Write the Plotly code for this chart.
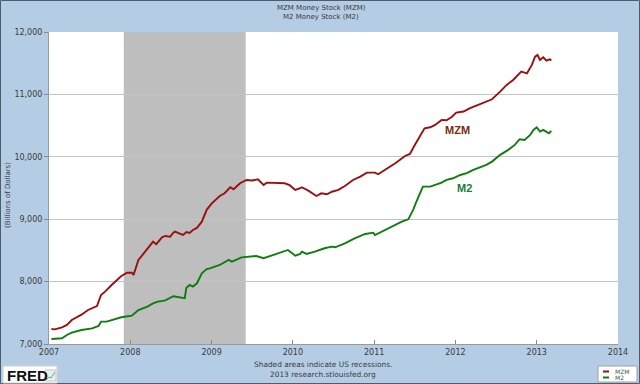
import plotly.graph_objects as go

# ---- data ----
mzm_years = [2007.03, 2007.07, 2007.16, 2007.22, 2007.28, 2007.34, 2007.40, 2007.48, 2007.57, 2007.59,
             2007.64, 2007.69, 2007.77, 2007.83, 2007.89, 2007.96, 2008.02, 2008.04, 2008.10, 2008.20,
             2008.26, 2008.28, 2008.32, 2008.39, 2008.43, 2008.49, 2008.53, 2008.55, 2008.63, 2008.65,
             2008.69, 2008.73, 2008.77, 2008.82, 2008.88, 2008.94, 2009.00, 2009.06, 2009.10, 2009.16,
             2009.23, 2009.27, 2009.35, 2009.43, 2009.50, 2009.57, 2009.64, 2009.68, 2009.80, 2009.90,
             2009.96, 2010.03, 2010.09, 2010.11, 2010.19, 2010.29, 2010.35, 2010.42, 2010.48, 2010.56,
             2010.64, 2010.74, 2010.83, 2010.91, 2011.01, 2011.05, 2011.13, 2011.26, 2011.38, 2011.44,
             2011.50, 2011.56, 2011.62, 2011.69, 2011.75, 2011.83, 2011.89, 2011.95, 2012.01, 2012.10,
             2012.18, 2012.28, 2012.38, 2012.45, 2012.55, 2012.63, 2012.71, 2012.77, 2012.81, 2012.88,
             2012.94, 2012.98, 2013.01, 2013.04, 2013.08, 2013.12, 2013.16, 2013.18]
mzm_values = [7240, 7235, 7267, 7305, 7385, 7428, 7470, 7545, 7598, 7609,
              7785, 7839, 7946, 8026, 8090, 8143, 8143, 8106, 8346, 8507,
              8614, 8640, 8600, 8709, 8731, 8720, 8785, 8800, 8757, 8747,
              8794, 8779, 8827, 8860, 8960, 9150, 9250, 9330, 9372, 9416,
              9512, 9480, 9576, 9629, 9620, 9640, 9549, 9586, 9576, 9576,
              9545, 9469, 9496, 9512, 9458, 9372, 9415, 9400, 9440, 9469,
              9533, 9629, 9682, 9746, 9746, 9720, 9789, 9896, 10013, 10045,
              10189, 10324, 10457, 10473, 10511, 10591, 10586, 10634, 10708, 10725,
              10779, 10831, 10885, 10922, 11044, 11152, 11232, 11311, 11365, 11338,
              11472, 11605, 11632, 11552, 11595, 11542, 11563, 11542]

m2_years = [2007.03, 2007.07, 2007.16, 2007.22, 2007.28, 2007.40, 2007.53, 2007.61, 2007.64, 2007.71,
            2007.81, 2007.89, 2008.02, 2008.10, 2008.21, 2008.28, 2008.34, 2008.43, 2008.53, 2008.61,
            2008.67, 2008.69, 2008.73, 2008.77, 2008.82, 2008.88, 2008.94, 2008.98, 2009.10, 2009.21,
            2009.25, 2009.37, 2009.47, 2009.55, 2009.64, 2009.72, 2009.84, 2009.94, 2010.03, 2010.09,
            2010.11, 2010.17, 2010.27, 2010.39, 2010.48, 2010.52, 2010.64, 2010.76, 2010.89, 2010.99,
            2011.01, 2011.13, 2011.26, 2011.34, 2011.42, 2011.48, 2011.52, 2011.56, 2011.60, 2011.69,
            2011.75, 2011.83, 2011.89, 2011.97, 2012.06, 2012.14, 2012.22, 2012.30, 2012.38, 2012.45,
            2012.55, 2012.65, 2012.73, 2012.79, 2012.85, 2012.92, 2012.96, 2013.00, 2013.04, 2013.08,
            2013.12, 2013.15, 2013.18]
m2_values = [7080, 7085, 7091, 7144, 7182, 7224, 7251, 7289, 7358, 7358,
             7396, 7428, 7455, 7545, 7600, 7652, 7678, 7700, 7765, 7750,
             7733, 7900, 7946, 7920, 7973, 8133, 8200, 8213, 8266, 8347,
             8320, 8389, 8400, 8410, 8374, 8410, 8453, 8507, 8415, 8443,
             8480, 8443, 8480, 8534, 8560, 8550, 8614, 8694, 8763, 8784,
             8747, 8827, 8907, 8960, 8998, 9148, 9281, 9416, 9522, 9522,
             9549, 9587, 9630, 9656, 9709, 9737, 9789, 9831, 9870, 9923,
             10031, 10111, 10191, 10282, 10271, 10351, 10431, 10473, 10404, 10431,
             10404, 10377, 10415]

recession_start = 2007.92
recession_end = 2009.42

x_ticks = [2007, 2008, 2009, 2010, 2011, 2012, 2013, 2014]
y_ticks = [7000, 8000, 9000, 10000, 11000, 12000]

series_names = ["MZM", "M2"]
series_colors = ["#9B0F0F", "#0E7D0E"]

# ---- layout geometry (pixels) ----
W, H = 640, 384
L, R, T, B = 49, 22, 32, 40
PW, PH = W - L - R, H - T - B


def px(x):
    return (x - L) / PW


def py(y):
    return (H - B - y) / PH


FONT = "DejaVu Sans, Verdana, sans-serif"
TXT = "#3a3a3a"

fig = go.Figure()
fig.add_trace(go.Scatter(x=mzm_years, y=mzm_values, mode="lines", name=series_names[0],
                         line=dict(color=series_colors[0], width=1.9), showlegend=False))
fig.add_trace(go.Scatter(x=m2_years, y=m2_values, mode="lines", name=series_names[1],
                         line=dict(color=series_colors[1], width=1.9), showlegend=False))

shapes = [
    dict(type="rect", xref="x", yref="paper", x0=recession_start, x1=recession_end, y0=0, y1=1,
         fillcolor="#BEBEBE", line=dict(width=0), layer="between"),
    # outer border of image
    dict(type="rect", xref="paper", yref="paper", x0=px(0.5), x1=px(W - 0.5), y0=py(0.5), y1=py(H - 0.5),
         line=dict(color="#4d5d6d", width=1), fillcolor="rgba(0,0,0,0)", layer="above"),
    # FRED logo box
    dict(type="rect", xref="paper", yref="paper", x0=px(3), x1=px(57), y0=py(383), y1=py(366),
         fillcolor="white", line=dict(color="#d0d0d0", width=1), layer="above"),
    # legend box
    dict(type="rect", xref="paper", yref="paper", x0=px(598), x1=px(637), y0=py(382), y1=py(366),
         fillcolor="white", line=dict(color="#a0a0a0", width=1), layer="above"),
    dict(type="line", xref="paper", yref="paper", x0=px(603), x1=px(609), y0=py(371.5), y1=py(371.5),
         line=dict(color=series_colors[0], width=2), layer="above"),
    dict(type="line", xref="paper", yref="paper", x0=px(603), x1=px(609), y0=py(377.5), y1=py(377.5),
         line=dict(color=series_colors[1], width=2), layer="above"),
    # tiny chart icon in FRED logo
    dict(type="rect", xref="paper", yref="paper", x0=px(45), x1=px(56), y0=py(381), y1=py(370),
         fillcolor="#e8eef4", line=dict(color="#c8c8c8", width=1), layer="above"),
    dict(type="path", xref="paper", yref="paper",
         path=f"M {px(46)} {py(380)} L {px(49)} {py(377)} L {px(51)} {py(378)} L {px(55)} {py(372)}",
         line=dict(color="#6aa84f", width=1), layer="above"),
]

annotations = [
    dict(text="MZM Money Stock (MZM)", x=px(321), y=py(8), xref="paper", yref="paper",
         showarrow=False, font=dict(family=FONT, size=7, color=TXT), xanchor="center", yanchor="middle"),
    dict(text="M2 Money Stock (M2)", x=px(321), y=py(17), xref="paper", yref="paper",
         showarrow=False, font=dict(family=FONT, size=7, color=TXT), xanchor="center", yanchor="middle"),
    dict(text="(Billions of Dollars)", x=px(8), y=py(195), xref="paper", yref="paper", textangle=-90,
         showarrow=False, font=dict(family=FONT, size=7, color=TXT), xanchor="center", yanchor="middle"),
    dict(text="Shaded areas indicate US recessions.", x=px(323), y=py(364), xref="paper", yref="paper",
         showarrow=False, font=dict(family=FONT, size=7.4, color=TXT), xanchor="center", yanchor="middle"),
    dict(text="2013 research.stlouisfed.org", x=px(323), y=py(374.5), xref="paper", yref="paper",
         showarrow=False, font=dict(family=FONT, size=7.4, color=TXT), xanchor="center", yanchor="middle"),
    dict(text="<b>MZM</b>", x=px(457), y=py(130), xref="paper", yref="paper", showarrow=False,
         xanchor="center", yanchor="middle",
         font=dict(family="Liberation Sans, Arial, sans-serif", size=11, color="#7d2a0c")),
    dict(text="<b>M2</b>", x=px(464), y=py(188), xref="paper", yref="paper", showarrow=False,
         xanchor="center", yanchor="middle",
         font=dict(family="Liberation Sans, Arial, sans-serif", size=11, color="#1d7a3a")),
    dict(text="<b>FRED</b>", x=px(5), y=py(375), xref="paper", yref="paper", showarrow=False,
         xanchor="left", yanchor="middle",
         font=dict(family="Liberation Sans, Arial, sans-serif", size=15, color="#111111")),
    dict(text=series_names[0], x=px(613), y=py(371.5), xref="paper", yref="paper", showarrow=False,
         xanchor="left", yanchor="middle", font=dict(family=FONT, size=6, color="#555555")),
    dict(text=series_names[1], x=px(613), y=py(377.5), xref="paper", yref="paper", showarrow=False,
         xanchor="left", yanchor="middle", font=dict(family=FONT, size=6, color="#555555")),
]

fig.update_layout(
    width=W, height=H,
    margin=dict(l=L, r=R, t=T, b=B, pad=0),
    paper_bgcolor="#B5CDE4",
    plot_bgcolor="white",
    shapes=shapes,
    annotations=annotations,
    showlegend=False,
    xaxis=dict(range=[2007, 2014], tickvals=x_ticks, ticktext=[str(t) for t in x_ticks],
               showgrid=False, zeroline=False, showline=True, linecolor="#9a9a9a", linewidth=1,
               ticks="inside", ticklen=4, tickcolor="#8a8a8a",
               tickfont=dict(family=FONT, size=8, color=TXT)),
    yaxis=dict(range=[7000, 12000], tickvals=y_ticks, ticktext=[f"{v:,}" for v in y_ticks],
               showgrid=True, gridcolor="#C4C4C4", gridwidth=1, zeroline=False,
               showline=True, linecolor="#9a9a9a", linewidth=1,
               ticks="outside", ticklen=4, tickcolor="#8a8a8a",
               tickfont=dict(family=FONT, size=8, color=TXT)),
)

fig.write_html("out.html",
               config={"displayModeBar": False},
               post_script="document.body.style.margin='0';document.body.style.padding='0';"
                           "document.body.style.overflow='hidden';")
